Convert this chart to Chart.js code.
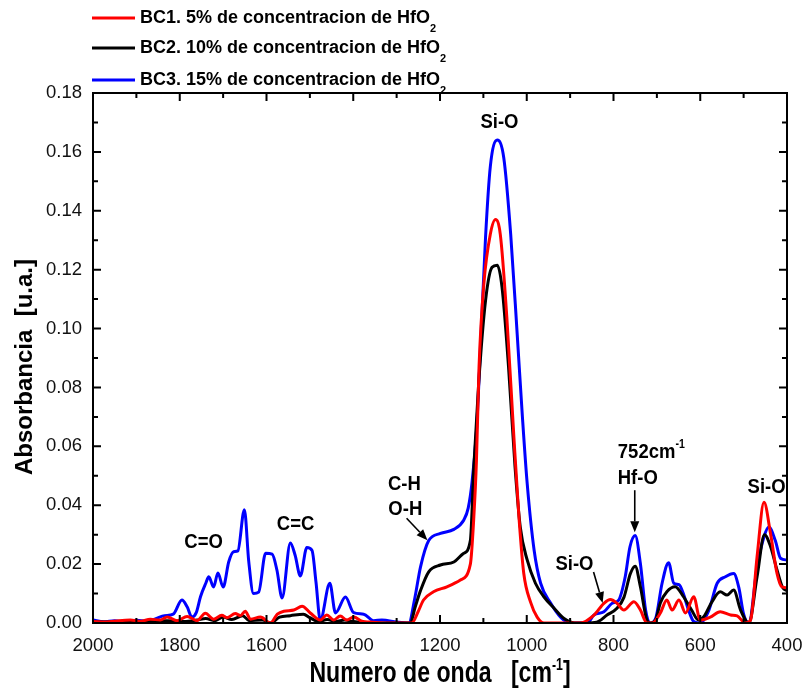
<!DOCTYPE html>
<html>
<head>
<meta charset="utf-8">
<script src="https://cdn.jsdelivr.net/npm/chart.js@4.4.1/dist/chart.umd.min.js"></script>
<style>
  html, body { margin: 0; padding: 0; background: #fff; }
</style>
</head>
<body>
<canvas id="ftirChart" width="805" height="691"></canvas>
<script>
'use strict';

const FONT = "'Liberation Sans', Arial, sans-serif";

// tick values
const waveTicks = [2000, 1800, 1600, 1400, 1200, 1000, 800, 600, 400];
const absTicks = [0, 0.02, 0.04, 0.06, 0.08, 0.10, 0.12, 0.14, 0.16, 0.18];

// series names
const seriesNames = [
  'BC1. 5% de concentracion de HfO',
  'BC2. 10% de concentracion de HfO',
  'BC3. 15% de concentracion de HfO'
];
const seriesColors = ['#ff0000', '#000000', '#0000ff'];

// BC1 - 5%
const bc1Wave = [2000, 1970, 1940, 1914, 1890, 1868, 1845, 1829, 1806, 1783, 1760, 1741, 1722, 1703, 1691, 1672, 1660, 1649, 1637, 1614, 1591, 1575, 1560, 1537, 1518, 1499, 1476, 1461, 1445, 1430, 1415, 1399, 1380, 1361, 1330, 1265, 1250, 1238, 1215, 1184, 1153, 1130, 1122, 1116, 1110, 1099, 1084, 1072, 1061, 1046, 1030, 1018, 1007, 991, 976, 960, 876, 845, 822, 807, 792, 776, 753, 738, 723, 711, 692, 677, 665, 649, 634, 615, 600, 577, 554, 530, 515, 496, 484, 469, 453, 438, 423, 412, 400];
const bc1Abs = [0.0005, 0.0003, 0.0008, 0.0010, 0.0006, 0.0013, 0.0010, 0.0020, 0.0008, 0.0022, 0.0008, 0.0033, 0.0013, 0.0026, 0.0018, 0.0032, 0.0025, 0.0040, 0.0013, 0.0020, 0.0000, 0.0030, 0.0040, 0.0044, 0.0057, 0.0034, 0.0010, 0.0027, 0.0010, 0.0024, 0.0010, 0.0020, 0.0006, 0.0003, 0.0000, 0.0000, 0.0040, 0.0078, 0.0106, 0.0123, 0.0146, 0.0200, 0.0360, 0.0550, 0.0870, 0.1150, 0.1320, 0.1370, 0.1320, 0.1040, 0.0640, 0.0360, 0.0170, 0.0070, 0.0020, 0.0000, 0.0000, 0.0027, 0.0067, 0.0080, 0.0067, 0.0044, 0.0072, 0.0044, 0.0000, 0.0000, 0.0034, 0.0078, 0.0044, 0.0078, 0.0034, 0.0089, 0.0010, 0.0020, 0.0038, 0.0027, 0.0024, 0.0000, 0.0010, 0.0225, 0.0410, 0.0304, 0.0168, 0.0123, 0.0120];

// BC2 - 10%
const bc2Wave = [2000, 1940, 1880, 1830, 1790, 1760, 1740, 1720, 1700, 1680, 1655, 1640, 1610, 1590, 1570, 1545, 1515, 1500, 1480, 1460, 1440, 1420, 1400, 1370, 1330, 1268, 1258, 1245, 1226, 1199, 1168, 1146, 1130, 1122, 1111, 1095, 1080, 1068, 1057, 1042, 1027, 1015, 999, 980, 961, 937, 914, 890, 839, 815, 792, 776, 761, 750, 738, 723, 715, 703, 692, 677, 658, 639, 620, 604, 592, 573, 554, 538, 523, 507, 488, 469, 452, 438, 423, 410, 400];
const bc2Abs = [0.0003, 0.0003, 0.0005, 0.0008, 0.0005, 0.0010, 0.0015, 0.0008, 0.0020, 0.0012, 0.0025, 0.0008, 0.0010, 0.0000, 0.0020, 0.0025, 0.0030, 0.0018, 0.0005, 0.0012, 0.0005, 0.0010, 0.0005, 0.0002, 0.0000, 0.0000, 0.0050, 0.0110, 0.0174, 0.0197, 0.0207, 0.0236, 0.0280, 0.0530, 0.0810, 0.1095, 0.1208, 0.1215, 0.1140, 0.0870, 0.0530, 0.0326, 0.0214, 0.0135, 0.0090, 0.0050, 0.0015, 0.0000, 0.0003, 0.0027, 0.0050, 0.0087, 0.0168, 0.0193, 0.0123, 0.0010, 0.0000, 0.0010, 0.0068, 0.0106, 0.0123, 0.0090, 0.0044, 0.0010, 0.0021, 0.0072, 0.0106, 0.0095, 0.0112, 0.0044, 0.0000, 0.0157, 0.0300, 0.0260, 0.0180, 0.0120, 0.0110];

// BC3 - 15%
const bc3Wave = [2000, 1975, 1950, 1925, 1900, 1875, 1855, 1835, 1815, 1795, 1783, 1772, 1762, 1752, 1740, 1733, 1722, 1712, 1700, 1687, 1676, 1666, 1651, 1641, 1630, 1618, 1602, 1587, 1576, 1564, 1545, 1534, 1522, 1507, 1495, 1486, 1476, 1454, 1441, 1418, 1399, 1376, 1353, 1334, 1299, 1272, 1258, 1245, 1226, 1199, 1168, 1145, 1135, 1126, 1116, 1106, 1095, 1084, 1068, 1053, 1037, 1022, 1010, 999, 983, 968, 945, 922, 900, 861, 845, 822, 803, 788, 773, 762, 750, 738, 726, 716, 703, 688, 673, 661, 649, 639, 627, 615, 600, 580, 561, 542, 523, 511, 500, 488, 469, 453, 442, 427, 415, 400];
const bc3Abs = [0.0010, 0.0004, 0.0008, 0.0003, 0.0009, 0.0006, 0.0015, 0.0025, 0.0030, 0.0078, 0.0055, 0.0020, 0.0035, 0.0090, 0.0135, 0.0157, 0.0122, 0.0170, 0.0122, 0.0208, 0.0242, 0.0245, 0.0385, 0.0210, 0.0100, 0.0105, 0.0237, 0.0234, 0.0180, 0.0085, 0.0272, 0.0230, 0.0160, 0.0256, 0.0246, 0.0140, 0.0010, 0.0135, 0.0034, 0.0088, 0.0035, 0.0030, 0.0008, 0.0010, 0.0003, 0.0000, 0.0085, 0.0190, 0.0280, 0.0304, 0.0318, 0.0350, 0.0390, 0.0480, 0.0650, 0.0960, 0.1310, 0.1550, 0.1640, 0.1580, 0.1320, 0.0980, 0.0700, 0.0474, 0.0247, 0.0135, 0.0068, 0.0020, 0.0000, 0.0000, 0.0027, 0.0038, 0.0067, 0.0078, 0.0157, 0.0259, 0.0297, 0.0202, 0.0044, 0.0000, 0.0015, 0.0135, 0.0205, 0.0135, 0.0130, 0.0100, 0.0044, 0.0005, 0.0000, 0.0044, 0.0135, 0.0157, 0.0168, 0.0120, 0.0030, 0.0000, 0.0190, 0.0293, 0.0326, 0.0280, 0.0220, 0.0214];

// band labels: [text parts, wavenumber, absorbance, align]
const bandLabels = [
  [[['Si-O', 21]], 1063, 0.1700, 'center'],
  [[['C=O', 21]], 1745, 0.0275, 'center'],
  [[['C=C', 21]], 1533, 0.0336, 'center'],
  [[['C-H', 21]], 1282, 0.0471, 'center'],
  [[['O-H', 21]], 1280, 0.0386, 'center'],
  [[['Si-O', 21]], 890, 0.0200, 'center'],
  [[['752cm', 21], ['-1', 12, -8]], 790, 0.0580, 'left'],
  [[['Hf-O', 21]], 744, 0.0492, 'center'],
  [[['Si-O', 21]], 447, 0.0461, 'center']
];
// arrows: [from wave, from abs, to wave, to abs]
const bandArrows = [
  [1277, 0.0356, 1229, 0.0281],
  [846, 0.0173, 825, 0.0068],
  [751, 0.0451, 751, 0.0308]
];

function toPoints(wave, abs) {
  return wave.map((w, i) => ({x: w, y: abs[i]}));
}

function drawParts(ctx, parts, x, y, align, sx) {
  ctx.save();
  ctx.translate(x, y);
  ctx.scale(sx, 1);
  ctx.textBaseline = 'middle';
  ctx.textAlign = 'left';
  let total = 0;
  const widths = parts.map(p => {
    ctx.font = `bold ${p[1]}px ${FONT}`;
    const w = ctx.measureText(p[0]).width;
    total += w;
    return w;
  });
  let cx = align === 'center' ? -total / 2 : 0;
  parts.forEach((p, i) => {
    ctx.font = `bold ${p[1]}px ${FONT}`;
    ctx.fillText(p[0], cx, p[2] || 0);
    cx += widths[i];
  });
  ctx.restore();
}

function arrow(ctx, x1, y1, x2, y2) {
  const ang = Math.atan2(y2 - y1, x2 - x1);
  const hl = 11, hw = 4.5;
  const bx = x2 - hl * Math.cos(ang), by = y2 - hl * Math.sin(ang);
  ctx.beginPath();
  ctx.moveTo(x1, y1);
  ctx.lineTo(bx, by);
  ctx.lineWidth = 1.6;
  ctx.stroke();
  ctx.beginPath();
  ctx.moveTo(x2, y2);
  ctx.lineTo(bx + hw * Math.sin(ang), by - hw * Math.cos(ang));
  ctx.lineTo(bx - hw * Math.sin(ang), by + hw * Math.cos(ang));
  ctx.closePath();
  ctx.fill();
}

const decorations = {
  id: 'decorations',
  afterDraw(chart) {
    const {ctx, chartArea: a, scales: {x, y}} = chart;
    ctx.save();
    ctx.strokeStyle = '#000';
    ctx.fillStyle = '#000';

    // frame + inward ticks on all four sides
    ctx.lineWidth = 2;
    ctx.strokeRect(a.left, a.top, a.right - a.left, a.bottom - a.top);
    ctx.beginPath();
    for (let v = 400; v <= 2000; v += 100) {
      const px = x.getPixelForValue(v);
      const len = v % 200 === 0 ? 8 : 5;
      ctx.moveTo(px, a.bottom); ctx.lineTo(px, a.bottom - len);
      ctx.moveTo(px, a.top); ctx.lineTo(px, a.top + len);
    }
    for (let i = 0; i <= 18; i++) {
      const py = y.getPixelForValue(i * 0.01);
      const len = i % 2 === 0 ? 8 : 5;
      ctx.moveTo(a.left, py); ctx.lineTo(a.left + len, py);
      ctx.moveTo(a.right, py); ctx.lineTo(a.right - len, py);
    }
    ctx.stroke();

    // band labels and arrows
    bandLabels.forEach(([parts, w, v, align]) => {
      drawParts(ctx, parts, x.getPixelForValue(w), y.getPixelForValue(v), align, 0.88);
    });
    bandArrows.forEach(([w1, v1, w2, v2]) => {
      arrow(ctx, x.getPixelForValue(w1), y.getPixelForValue(v1),
                 x.getPixelForValue(w2), y.getPixelForValue(v2));
    });

    // axis titles
    drawParts(ctx, [['Numero de onda   [cm', 30], ['-1', 16, -8], [']', 30]],
              (a.left + a.right) / 2, 674, 'center', 0.77);
    ctx.save();
    ctx.translate(25, (a.top + a.bottom) / 2 + 9);
    ctx.rotate(-Math.PI / 2);
    drawParts(ctx, [['Absorbancia  [u.a.]', 24]], 0, 0, 'center', 1);
    ctx.restore();

    // legend
    const rows = [18, 48, 80];
    seriesNames.forEach((name, i) => {
      ctx.beginPath();
      ctx.strokeStyle = seriesColors[i];
      ctx.lineWidth = 3;
      ctx.moveTo(92, rows[i]);
      ctx.lineTo(135, rows[i]);
      ctx.stroke();
      drawParts(ctx, [[name, 18], ['2', 11, 11]], 140, rows[i], 'left', 1);
    });
    ctx.restore();
  }
};

new Chart(document.getElementById('ftirChart'), {
  type: 'line',
  data: {
    datasets: [
      {label: seriesNames[0] + '2', data: toPoints(bc1Wave, bc1Abs), borderColor: seriesColors[0]},
      {label: seriesNames[1] + '2', data: toPoints(bc2Wave, bc2Abs), borderColor: seriesColors[1]},
      {label: seriesNames[2] + '2', data: toPoints(bc3Wave, bc3Abs), borderColor: seriesColors[2]}
    ]
  },
  options: {
    responsive: false,
    animation: false,
    layout: {padding: {top: 93, right: 18, left: 0, bottom: 0}},
    elements: {
      line: {borderWidth: 3, cubicInterpolationMode: 'monotone'},
      point: {radius: 0}
    },
    plugins: {legend: {display: false}, tooltip: {enabled: false}},
    scales: {
      x: {
        type: 'linear',
        reverse: true,
        min: 400,
        max: 2000,
        afterBuildTicks: s => { s.ticks = waveTicks.map(v => ({value: v})); },
        afterFit: s => { s.height = 68; s.paddingLeft = 0; s.paddingRight = 0; },
        grid: {display: false, drawTicks: false},
        border: {display: false},
        ticks: {
          padding: 12,
          maxRotation: 0,
          autoSkip: false,
          color: '#111',
          font: {family: FONT, size: 18.5},
          callback: v => String(v)
        }
      },
      y: {
        min: 0,
        max: 0.18,
        afterBuildTicks: s => { s.ticks = absTicks.map(v => ({value: v})); },
        afterFit: s => { s.width = 93; s.paddingTop = 0; s.paddingBottom = 0; },
        grid: {display: false, drawTicks: false},
        border: {display: false},
        ticks: {
          padding: 11,
          color: '#111',
          font: {family: FONT, size: 18.5},
          callback: v => v.toFixed(2)
        }
      }
    }
  },
  plugins: [decorations]
});
</script>
</body>
</html>
